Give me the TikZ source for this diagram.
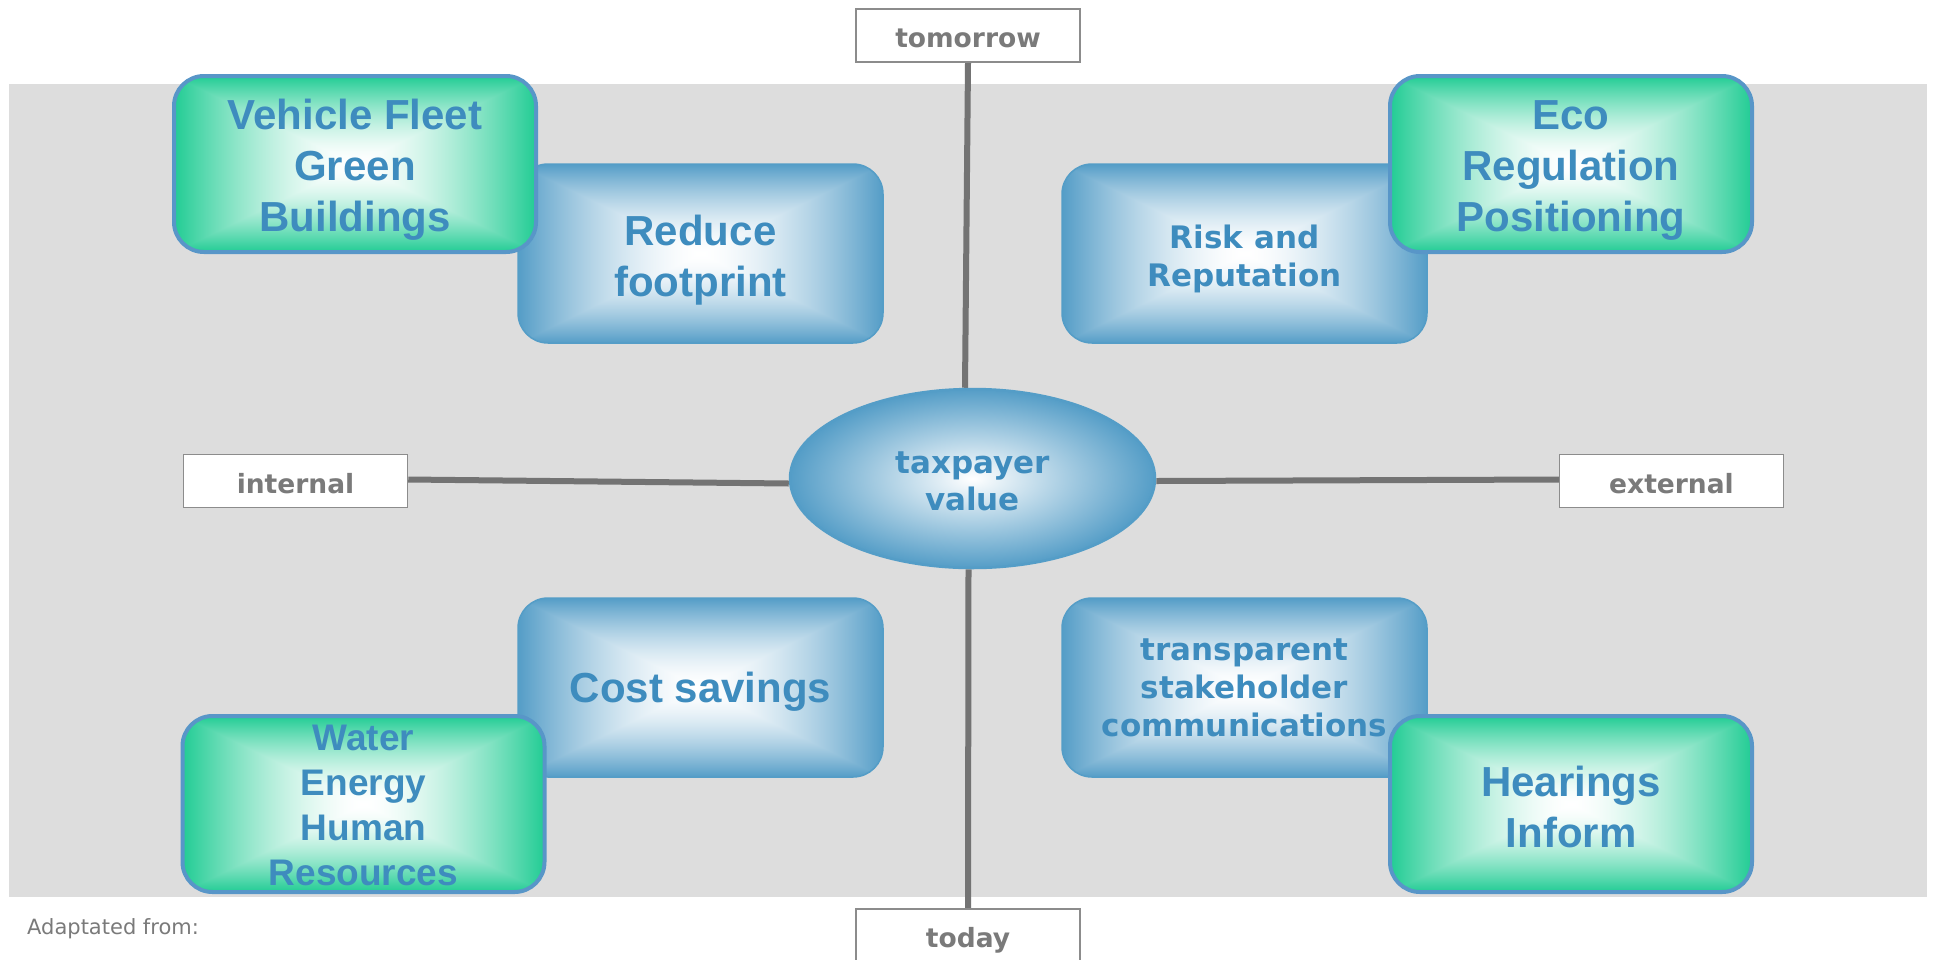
\documentclass[tikz,border=0pt]{standalone}
\usepackage{fontspec}
\setmainfont{Liberation Sans}
\newfontfamily\arialfont{Liberation Sans}
\newfontfamily\tahfont{DejaVu Sans}
\usetikzlibrary{shapes.geometric,backgrounds,calc}
\definecolor{bggray}{RGB}{221,221,221}
\definecolor{linegray}{RGB}{115,115,115}
\definecolor{labgray}{RGB}{122,122,122}
\definecolor{labedge}{RGB}{140,140,140}
\definecolor{txtblue}{RGB}{62,140,190}
\definecolor{edgeblue}{RGB}{84,157,199}
\definecolor{greenedge}{RGB}{88,150,200}
\pgfdeclarefunctionalshading{bluerect}{\pgfpointorigin}{\pgfpoint{100bp}{100bp}}{}{
50 sub abs 25 div exch 50 sub abs 25 div
2 copy lt {exch} if pop
dup 1 gt {pop 1} if
1.6 exp
dup dup
0.67 mul 1 exch sub
3 1 roll
0.385 mul 1 exch sub
exch
0.22 mul 1 exch sub
}
\pgfdeclarefunctionalshading{greenrect}{\pgfpointorigin}{\pgfpoint{100bp}{100bp}}{}{
50 sub abs 25 div exch 50 sub abs 25 div
2 copy lt {exch} if pop
dup 1 gt {pop 1} if
1.6 exp
dup dup
0.87 mul 1 exch sub
3 1 roll
0.2 mul 1 exch sub
exch
0.42 mul 1 exch sub
}
\begin{document}
\begin{tikzpicture}[x=1pt,y=-1pt,
  bbox/.style={rounded corners=30pt, minimum width=365pt, minimum height=179pt, inner sep=0pt},
  bluebox/.style={bbox, shade, shading=bluerect, draw=edgeblue, line width=1.5pt},
  greenbox/.style={bbox, shade, shading=greenrect, draw=greenedge, line width=4pt, minimum width=362pt, minimum height=176pt},
  boxtext/.style={inner sep=0pt, align=center, text=txtblue},
  big/.style={boxtext, font=\arialfont\bfseries\fontsize{42}{51}\selectfont},
  mid/.style={boxtext, font=\arialfont\bfseries\fontsize{37}{45}\selectfont},
  tah/.style={boxtext, font=\tahfont\bfseries\fontsize{31}{38}\selectfont},
  lab/.style={draw=labedge, line width=1.5pt, fill=white, minimum width=224pt, minimum height=53pt, inner sep=0pt, text height=24pt, text depth=0pt, text=labgray, font=\tahfont\bfseries\fontsize{26.5}{30}\selectfont},
  axis/.style={draw=linegray, line width=6pt}
]
\useasboundingbox (0,0) rectangle (1933,959);

% centre
\node[ellipse, minimum width=365pt, minimum height=179pt, inner sep=0pt, draw=edgeblue, line width=2.5pt,
  inner color=white, outer color=edgeblue] (tv) at (972.5,478.5) {};
\node[tah, font=\tahfont\bfseries\fontsize{31}{37}\selectfont] (tvt) at ($(tv)+(0,3)$) {taxpayer\\value};

% axis labels
\node[lab] (tom) at (968,35.5) {tomorrow};
\node[lab] (tod) at (968,935.5) {today};
\node[lab] (int) at (295.5,481) {internal};
\node[lab] (ext) at (1671.5,481) {external};

\begin{pgfonlayer}{background}
  \fill[bggray] (9,84) rectangle (1927,897);
  \draw[axis] (tom.south) -- ($(tv.north)+(-7.5,0)$);
  \draw[axis] (tod.north) -- ($(tv.south)+(-4,0)$);
  \draw[axis] ($(int.east)+(0,-1.5)$) -- ($(tv.west)+(0,5)$);
  \draw[axis] ($(ext.west)+(0,-1.5)$) -- ($(tv.east)+(0,2.5)$);
\end{pgfonlayer}

% blue boxes
\node[bluebox] (rf) at (700.5,253.5) {};
\node[big] (rft) at ($(rf)+(0,6.5)$) {Reduce\\footprint};
\node[bluebox] (rr) at (1244.5,253.5) {};
\node[tah] (rrt) at ($(rr)+(0,5)$) {Risk and\\Reputation};
\node[bluebox] (cs) at (700.5,687.5) {};
\node[big] (cst) at ($(cs)+(0,4)$) {Cost savings};
\node[bluebox] (ts) at (1244.5,687.5) {};
\node[tah] (tst) at ($(ts)+(0,0.5)$) {transparent\\stakeholder\\communications};

% green boxes
\node[greenbox] (vf) at (355,164) {};
\node[big] (vft) at ($(vf)+(0,6)$) {Vehicle Fleet\\Green\\Buildings};
\node[greenbox] (eco) at (1571,164) {};
\node[big] (ecot) at ($(eco)+(0,6)$) {Eco\\Regulation\\Positioning};
\node[greenbox] (we) at (363.5,804) {};
\node[mid] (wet) at ($(we)+(0,1.5)$) {Water\\Energy\\Human\\Resources};
\node[greenbox] (hi) at (1571,804) {};
\node[big] (hit) at ($(hi)+(0,2.5)$) {Hearings\\Inform};

% source note
\node[anchor=base west, inner sep=0pt, text=labgray, font=\tahfont\fontsize{21}{25}\selectfont] (src) at (27,934) {Adaptated from:};
\end{tikzpicture}
\end{document}
